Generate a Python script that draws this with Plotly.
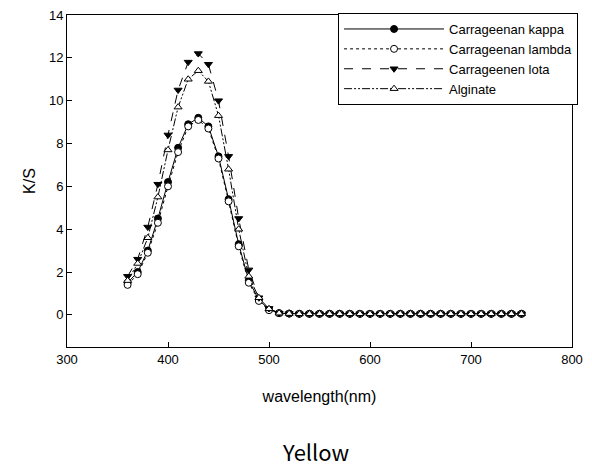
import plotly.graph_objects as go

wavelength = list(range(360, 760, 10))

tail = [0.08, 0.06, 0.05, 0.05, 0.05, 0.05, 0.05, 0.05, 0.05, 0.05, 0.05, 0.05,
        0.05, 0.05, 0.05, 0.05, 0.05, 0.05, 0.05, 0.05, 0.05, 0.05, 0.05, 0.05, 0.05]

kappa = [1.5, 2.0, 3.0, 4.5, 6.2, 7.8, 8.9, 9.2, 8.8, 7.4, 5.4, 3.3, 1.6, 0.7, 0.25] + tail
lambda_ = [1.4, 1.9, 2.9, 4.3, 6.0, 7.6, 8.8, 9.1, 8.7, 7.3, 5.3, 3.2, 1.5, 0.65, 0.22] + tail
iota = [1.8, 2.6, 4.1, 6.1, 8.4, 10.5, 11.8, 12.2, 11.7, 10.0, 7.4, 4.5, 2.1, 0.8, 0.3] + tail
alginate = [1.6, 2.4, 3.6, 5.5, 7.7, 9.7, 11.0, 11.4, 10.9, 9.3, 6.8, 4.0, 1.8, 0.8, 0.28] + tail

names = ["Carrageenan kappa", "Carrageenan lambda", "Carrageenen lota", "Alginate"]
x_ticks = [300, 400, 500, 600, 700, 800]
y_ticks = [0, 2, 4, 6, 8, 10, 12, 14]

series = [
    (names[0], kappa, "solid", "circle", "black"),
    (names[1], lambda_, "dot", "circle", "white"),
    (names[2], iota, "dash", "triangle-down", "black"),
    (names[3], alginate, "8px,2px,2px,2px,2px,2px", "triangle-up", "white"),
]

fig = go.Figure()
for name, ys, dash, sym, fill in series:
    fig.add_trace(go.Scatter(
        x=wavelength, y=ys, name=name, mode="lines+markers",
        line=dict(color="black", width=1, dash=dash),
        marker=dict(symbol=sym, size=7, color=fill,
                    line=dict(color="black", width=1)),
    ))

axis_common = dict(
    showgrid=False, zeroline=False, showline=True, linecolor="black",
    linewidth=1, mirror=True, ticks="inside", ticklen=5, tickcolor="black",
    automargin=False, ticklabeloverflow="allow",
    tickfont=dict(family="Liberation Sans, Arial", size=13, color="black"),
)

# page body has an 8px default margin, so the figure is sized to fit the 592x470 window
fig.update_layout(
    width=584, height=462,
    margin=dict(l=59, r=20, t=7, b=123, autoexpand=False),
    paper_bgcolor="white", plot_bgcolor="white",
    font=dict(family="Liberation Sans, Arial", size=12, color="black"),
    xaxis=dict(range=[300, 800], tickvals=x_ticks,
               title=dict(text="wavelength(nm)", font=dict(size=16), standoff=25),
               **axis_common),
    yaxis=dict(range=[-1.5, 14], tickvals=y_ticks,
               title=dict(text="K/S", font=dict(size=16), standoff=9),
               **axis_common),
    legend=dict(x=1.012, xanchor="right", y=1.006, yanchor="top",
                bordercolor="black", borderwidth=1, bgcolor="white",
                font=dict(size=13), itemwidth=100, tracegroupgap=0),
    showlegend=True,
    annotations=[dict(text="Yellow", xref="paper", yref="paper",
                      x=0.493, y=-0.313, xanchor="center", yanchor="middle",
                      showarrow=False,
                      font=dict(family="Noto Sans CJK KR, Noto Sans", size=22, color="black"))],
)

fig.write_html("out.html")
